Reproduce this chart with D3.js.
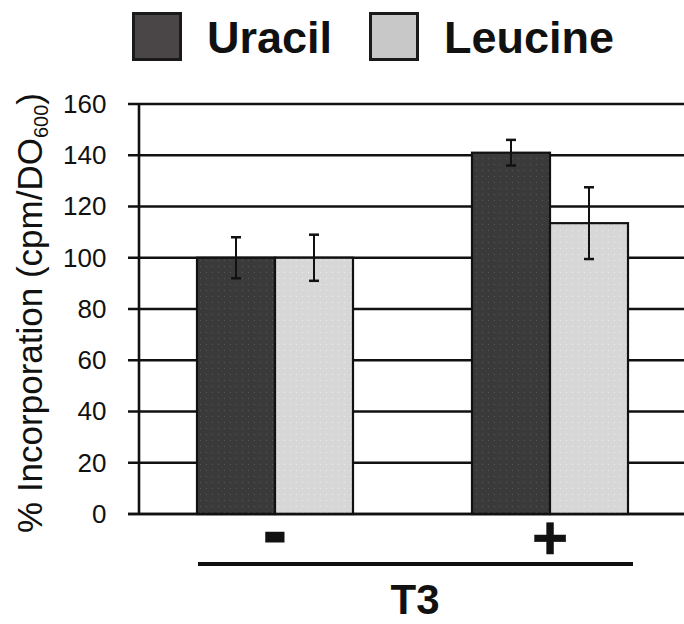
<!DOCTYPE html>
<html>
<head>
<meta charset="utf-8">
<script src="https://cdnjs.cloudflare.com/ajax/libs/d3/7.8.5/d3.min.js"></script>
<style>
  body { margin: 0; background: #fff; }
  svg text { font-family: "Liberation Sans", Arial, sans-serif; fill: #111; }
</style>
</head>
<body>
<svg id="chart" width="684" height="624"></svg>
<script>
// DATA
var groups = ["-", "+"];
var series = ["Uracil", "Leucine"];
var uracil = [100, 141];
var uracilErr = [8, 5];
var leucine = [100, 113.5];
var leucineErr = [9, 14];
var yTicks = [0, 20, 40, 60, 80, 100, 120, 140, 160];
var groupTitle = "T3";

var colors = {"Uracil": "url(#darkDots)", "Leucine": "url(#lightDots)"};
var legendColors = {"Uracil": "#4a4647", "Leucine": "#c8c8c8"};

var svg = d3.select("#chart");

// patterns for the dotted bar fill
var defs = svg.append("defs");
function dots(id, bg, dot) {
  var p = defs.append("pattern").attr("id", id)
    .attr("patternUnits", "userSpaceOnUse").attr("width", 6).attr("height", 6);
  p.append("rect").attr("width", 6).attr("height", 6).attr("fill", bg);
  p.append("rect").attr("x", 2).attr("y", 2).attr("width", 1).attr("height", 1).attr("fill", dot);
}
dots("darkDots", "#3a3a3a", "#585858");
dots("lightDots", "#d7d7d7", "#ececec");

// SCALES
var y = d3.scaleLinear().domain([0, 160]).range([514, 104]);
var x0 = d3.scalePoint().domain(groups).range([275, 550]);
var x1 = d3.scaleBand().domain(series).range([-78, 78]);

var rows = [];
groups.forEach(function(g, i) {
  rows.push({group: g, key: "Uracil", value: uracil[i], err: uracilErr[i]});
  rows.push({group: g, key: "Leucine", value: leucine[i], err: leucineErr[i]});
});

// GRID LINES (tick + line across)
svg.append("g").selectAll("line")
  .data(yTicks)
  .enter().append("line")
  .attr("x1", 128).attr("x2", 684)
  .attr("y1", function(d) { return y(d); })
  .attr("y2", function(d) { return y(d); })
  .attr("stroke", "#111").attr("stroke-width", 2.6);

// Y AXIS
var yAxis = svg.append("g")
  .attr("transform", "translate(138.5,0)")
  .call(d3.axisLeft(y).tickValues(yTicks).tickSize(0).tickPadding(32));
yAxis.select(".domain").attr("stroke", "#111").attr("stroke-width", 2.6);
yAxis.selectAll("text")
  .style("font-size", "26px")
  .style("font-family", "Liberation Sans, Arial, sans-serif")
  .attr("fill", "#111");

// BARS
svg.append("g").selectAll("rect")
  .data(rows)
  .enter().append("rect")
  .attr("x", function(d) { return x0(d.group) + x1(d.key); })
  .attr("width", x1.bandwidth())
  .attr("y", function(d) { return y(d.value); })
  .attr("height", function(d) { return y(0) - y(d.value); })
  .attr("fill", function(d) { return colors[d.key]; })
  .attr("stroke", "#111").attr("stroke-width", 2.2);

// ERROR BARS
var eb = svg.append("g").selectAll("g")
  .data(rows)
  .enter().append("g")
  .attr("transform", function(d) { return "translate(" + (x0(d.group) + x1(d.key) + x1.bandwidth() / 2) + ",0)"; });
eb.append("line")
  .attr("y1", function(d) { return y(d.value + d.err); })
  .attr("y2", function(d) { return y(d.value - d.err); })
  .attr("stroke", "#111").attr("stroke-width", 2);
eb.append("line")
  .attr("x1", -5).attr("x2", 5)
  .attr("y1", function(d) { return y(d.value + d.err); })
  .attr("y2", function(d) { return y(d.value + d.err); })
  .attr("stroke", "#111").attr("stroke-width", 2.5);
eb.append("line")
  .attr("x1", -5).attr("x2", 5)
  .attr("y1", function(d) { return y(d.value - d.err); })
  .attr("y2", function(d) { return y(d.value - d.err); })
  .attr("stroke", "#111").attr("stroke-width", 2.5);

// BASELINE
svg.append("line")
  .attr("x1", 128).attr("x2", 684)
  .attr("y1", y(0)).attr("y2", y(0))
  .attr("stroke", "#111").attr("stroke-width", 2.6);

// GROUP LABELS (- / +)
svg.selectAll(".grp")
  .data(groups)
  .enter().append("text")
  .attr("class", "grp")
  .attr("x", function(d) { return x0(d); })
  .attr("y", function(d) { return d === "-" ? 554 : 559; })
  .attr("text-anchor", "middle")
  .style("font-size", function(d) { return d === "-" ? "64px" : "62px"; })
  .style("font-weight", "bold")
  .style("stroke", "#111")
  .style("stroke-width", function(d) { return d === "-" ? 3 : 0.5; })
  .text(function(d) { return d; });

// T3 bracket line + label
svg.append("line")
  .attr("x1", 198).attr("x2", 633)
  .attr("y1", 564).attr("y2", 564)
  .attr("stroke", "#111").attr("stroke-width", 4);
svg.append("text")
  .attr("x", 415).attr("y", 614)
  .attr("text-anchor", "middle")
  .style("font-size", "42px").style("font-weight", "bold")
  .text(groupTitle);

// Y LABEL
var yl = svg.append("text")
  .attr("transform", "translate(42,313) rotate(-90)")
  .attr("text-anchor", "middle")
  .style("font-size", "35px");
yl.append("tspan").text("% Incorporation (cpm/DO");
yl.append("tspan").attr("dy", 6).style("font-size", "20px").text("600");
yl.append("tspan").attr("dy", -6).text(")");

// LEGEND
var legX = [132, 369];
var leg = svg.append("g").selectAll("g")
  .data(series)
  .enter().append("g")
  .attr("transform", function(d, i) { return "translate(" + legX[i] + ",12)"; });
leg.append("rect")
  .attr("x", 1.5).attr("y", 1.5)
  .attr("width", 47).attr("height", 46)
  .attr("fill", function(d) { return legendColors[d]; })
  .attr("stroke", "#1a1a1a").attr("stroke-width", 3);
leg.append("text")
  .attr("x", 75).attr("y", 41)
  .style("font-size", "45px").style("font-weight", "bold")
  .text(function(d) { return d; });
</script>
</body>
</html>
